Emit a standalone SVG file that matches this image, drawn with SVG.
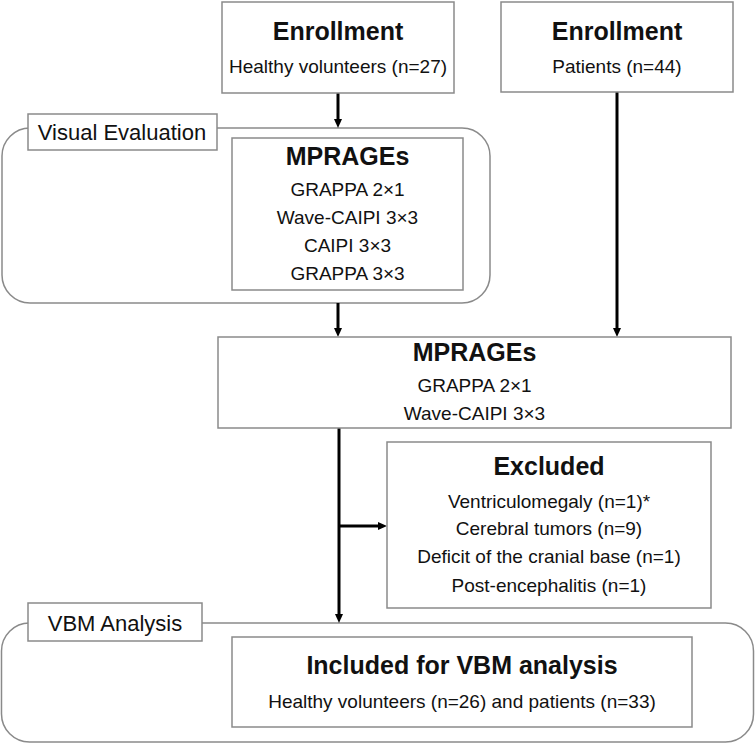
<svg xmlns="http://www.w3.org/2000/svg" width="756" height="744" viewBox="0 0 756 744">
<defs>
<style>
.box{fill:#fff;stroke:#8a8a8a;stroke-width:1.5}
.grp{fill:none;stroke:#8a8a8a;stroke-width:1.5}
.t{font-family:"Liberation Sans",Arial,sans-serif;fill:#111;text-anchor:middle}
.h{font-size:25px;font-weight:bold}
.n{font-size:19px}
.lbl{font-size:22px}
.con{stroke:#000;stroke-width:3;fill:none;marker-end:url(#ah)}
</style>
<marker id="ah" markerWidth="9" markerHeight="8" refX="0" refY="4" orient="auto" markerUnits="userSpaceOnUse">
<path d="M0,0 L9,4 L0,8 Z" fill="#000"/>
</marker>
</defs>
<rect width="756" height="744" fill="#fff"/>

<g id="group-visual">
<rect class="grp" x="2" y="128" width="488" height="175" rx="28"/>
</g>
<g id="group-vbm">
<rect class="grp" x="1.5" y="623" width="752" height="119" rx="28"/>
</g>

<g id="connectors">
<line class="con" x1="338" y1="93" x2="338" y2="119"/>
<line class="con" x1="338" y1="303" x2="338" y2="328"/>
<line class="con" x1="617" y1="92" x2="617" y2="328"/>
<line class="con" x1="339" y1="428" x2="339" y2="614"/>
<line class="con" x1="339" y1="526" x2="378" y2="526"/>
</g>

<g id="label-visual">
<rect class="box" x="28" y="114" width="189" height="36"/>
<text class="t lbl" x="122" y="140">Visual Evaluation</text>
</g>
<g id="label-vbm">
<rect class="box" x="28" y="603" width="174" height="38"/>
<text class="t lbl" x="115" y="631" font-size="21">VBM Analysis</text>
</g>

<g id="enroll-healthy">
<rect class="box" x="222" y="2" width="232" height="91"/>
<text class="t h" x="338" y="40">Enrollment</text>
<text class="t n" x="338" y="73">Healthy volunteers (n=27)</text>
</g>
<g id="enroll-patients">
<rect class="box" x="501" y="2" width="232" height="90"/>
<text class="t h" x="617" y="40">Enrollment</text>
<text class="t n" x="617" y="73">Patients (n=44)</text>
</g>

<g id="mprages-1">
<rect class="box" x="232" y="138" width="231" height="152"/>
<text class="t h" x="347.5" y="165">MPRAGEs</text>
<text class="t n" x="347.5" y="196">GRAPPA 2×1</text>
<text class="t n" x="347.5" y="224">Wave-CAIPI 3×3</text>
<text class="t n" x="347.5" y="252">CAIPI 3×3</text>
<text class="t n" x="347.5" y="280">GRAPPA 3×3</text>
</g>

<g id="mprages-2">
<rect class="box" x="218" y="337" width="513" height="91"/>
<text class="t h" x="474.5" y="361">MPRAGEs</text>
<text class="t n" x="474.5" y="392">GRAPPA 2×1</text>
<text class="t n" x="474.5" y="420">Wave-CAIPI 3×3</text>
</g>

<g id="excluded">
<rect class="box" x="387" y="442" width="324" height="166"/>
<text class="t h" x="549" y="475">Excluded</text>
<text class="t n" x="549" y="508">Ventriculomegaly (n=1)*</text>
<text class="t n" x="549" y="535">Cerebral tumors (n=9)</text>
<text class="t n" x="549" y="563">Deficit of the cranial base (n=1)</text>
<text class="t n" x="549" y="592">Post-encephalitis (n=1)</text>
</g>

<g id="included">
<rect class="box" x="232" y="637" width="460" height="90"/>
<text class="t h" x="462" y="674">Included for VBM analysis</text>
<text class="t n" x="462" y="708">Healthy volunteers (n=26) and patients (n=33)</text>
</g>
</svg>
